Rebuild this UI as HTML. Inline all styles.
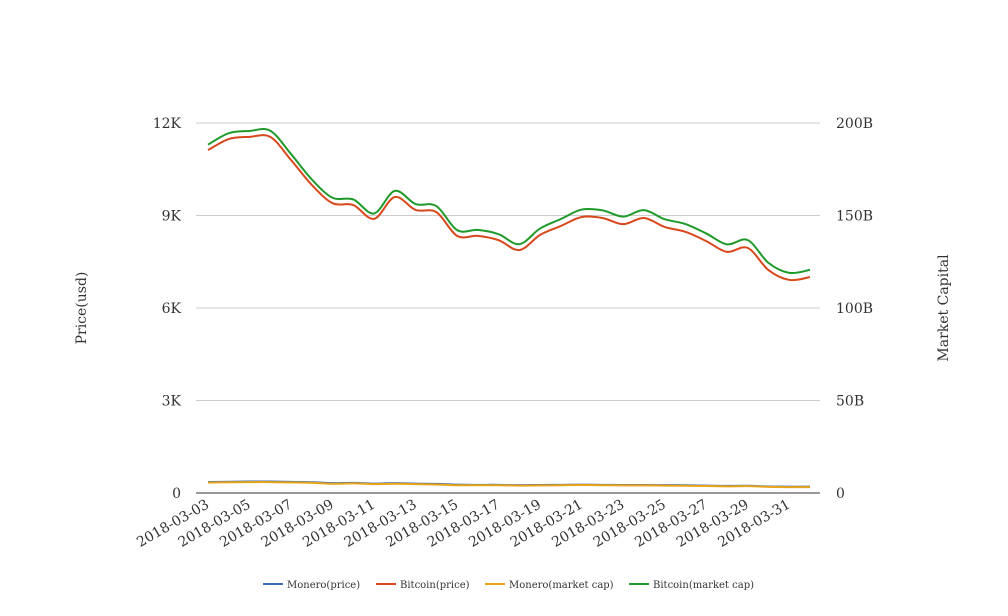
<!DOCTYPE html>
<html><head><meta charset="utf-8"><style>
body{margin:0;background:#fff}
svg{display:block;font-family:"DejaVu Serif","Liberation Serif",serif}
</style></head><body>
<svg id="chart" width="1008" height="616" viewBox="0 0 1008 616">
<g id="grid"></g>
<g id="axes"></g>
<g id="series"></g>
<text x="86" y="308" transform="rotate(-90 86 308)" text-anchor="middle" font-size="14" fill="#333">Price(usd)</text>
<text x="948" y="308" transform="rotate(-90 948 308)" text-anchor="middle" font-size="14" fill="#333">Market Capital</text>
<g id="legend"></g>
</svg>
<script>
const dates=["2018-03-03","2018-03-04","2018-03-05","2018-03-06","2018-03-07","2018-03-08","2018-03-09","2018-03-10","2018-03-11","2018-03-12","2018-03-13","2018-03-14","2018-03-15","2018-03-16","2018-03-17","2018-03-18","2018-03-19","2018-03-20","2018-03-21","2018-03-22","2018-03-23","2018-03-24","2018-03-25","2018-03-26","2018-03-27","2018-03-28","2018-03-29","2018-03-30","2018-03-31","2018-04-01"];
const moneroPrice=[355,365,372,372,360,350,320,330,305,320,305,295,270,265,265,255,260,265,270,265,260,260,255,250,240,230,235,210,205,205];
const bitcoinPrice=[11120,11480,11550,11550,10800,9990,9400,9340,8890,9600,9180,9110,8340,8340,8200,7880,8370,8660,8950,8920,8720,8920,8630,8470,8170,7820,7950,7230,6910,7000];
const moneroCap=[5.6,5.8,5.9,5.9,5.7,5.5,5.0,5.2,4.8,5.0,4.8,4.6,4.2,4.2,4.2,4.0,4.1,4.2,4.3,4.2,4.1,4.1,4.0,3.9,3.8,3.6,3.7,3.3,3.2,3.2];
const bitcoinCap=[188.3,194.5,195.7,195.8,183.2,169.5,159.6,158.7,151.1,163.3,156.2,155.1,142.1,142.2,139.9,134.5,143.0,148.1,153.2,152.8,149.4,152.9,148.0,145.4,140.3,134.4,136.7,124.4,119.0,120.6];
const leftTicks=[0,3000,6000,9000,12000];
const leftLabels=["0","3K","6K","9K","12K"];
const rightTicks=[0,50,100,150,200];
const rightLabels=["0","50B","100B","150B","200B"];
const ns="http://www.w3.org/2000/svg";
const X0=208,X1=810,Y0=493,Y1=123,PL=196,PR=820;
const xs=i=>X0+(X1-X0)*i/(dates.length-1);
const yL=v=>Y0-(Y0-Y1)*v/12000;
const yR=v=>Y0-(Y0-Y1)*v/200;
function mk(t,a,p){const e=document.createElementNS(ns,t);for(const k in a)e.setAttribute(k,a[k]);(p||document.getElementById('chart')).appendChild(e);return e;}
const grid=document.getElementById('grid'),axes=document.getElementById('axes');
leftTicks.forEach((v,i)=>{
 if(v>0){const l=mk('line',{x1:PL,x2:PR,y1:yL(v),y2:yL(v),stroke:'#ccc','stroke-width':1},grid);
 
 }
 const t=mk('text',{x:181,y:yL(v)+5,'text-anchor':'end','font-size':14,fill:'#333'},axes);t.textContent=leftLabels[i];
 
 
});
rightTicks.forEach((v,i)=>{
 const t=mk('text',{x:836,y:yR(v)+5,'text-anchor':'start','font-size':14,fill:'#333'},axes);t.textContent=rightLabels[i];
 
 
});
const ax=mk('line',{x1:PL,x2:PR,y1:Y0,y2:Y0,stroke:'#333','stroke-width':1},axes);


dates.forEach((d,i)=>{
 if(i%2)return;
 const x=xs(i)+2,y=Y0+14;
 const t=mk('text',{x:x,y:y,'text-anchor':'end','font-size':14,fill:'#333',transform:`rotate(-30 ${x} ${y})`},axes);t.textContent=d;
 
 
});
function path(vals,yf){
 const p=vals.map((v,i)=>[xs(i),yf(v)]);let d=`M${p[0][0]},${p[0][1]}`;
 for(let i=0;i<p.length-1;i++){const a=p[i-1]||p[i],b=p[i],c=p[i+1],e=p[i+2]||c;
  d+=` C${b[0]+(c[0]-a[0])/6},${b[1]+(c[1]-a[1])/6} ${c[0]-(e[0]-b[0])/6},${c[1]-(e[1]-b[1])/6} ${c[0]},${c[1]}`;}
 return d;}
const S=document.getElementById('series');
const defs=[["Monero(price)",moneroPrice,yL,"#3a6fb0","monero-price-line"],["Bitcoin(price)",bitcoinPrice,yL,"#d9481c","bitcoin-price-line"],["Monero(market cap)",moneroCap,yR,"#eaa41a","monero-marketcap-line"],["Bitcoin(market cap)",bitcoinCap,yR,"#1f9a2a","bitcoin-marketcap-line"]];
defs.forEach(s=>{const p=mk('path',{d:path(s[1],s[2]),fill:'none',stroke:s[3],'stroke-width':2},S);
 
 });
const L=document.getElementById('legend');const lx=[263,376,485,629];
defs.forEach((s,i)=>{
 const g=mk('g',{},L);
 
 
 mk('line',{x1:lx[i],x2:lx[i]+20,y1:584,y2:584,stroke:s[3],'stroke-width':2},g);
 const t=mk('text',{x:lx[i]+24,y:588,'font-size':10,fill:'#333'},g);t.textContent=s[0];
});
</script>
</body></html>
